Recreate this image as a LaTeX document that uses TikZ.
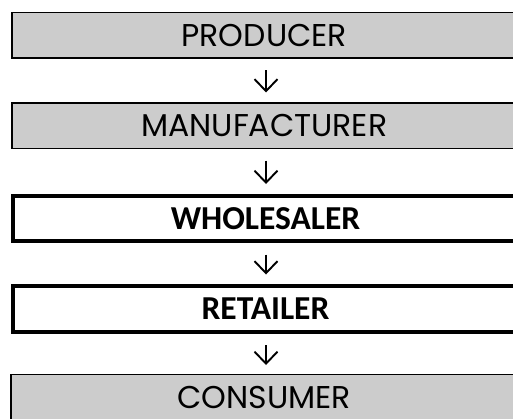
\documentclass[tikz,border=0pt]{standalone}
\usepackage{fontspec}
\usetikzlibrary{arrows.meta}
\newfontfamily\stagefont{Poppins}
\newfontfamily\tradefont{Carlito}
\definecolor{stagegrey}{HTML}{CCCCCC}
\begin{document}
\begin{tikzpicture}[x=1pt,y=-1pt,
  greybox/.style={draw=black, fill=stagegrey, line width=1.5pt,
    minimum width=505pt, minimum height=45.5pt, inner sep=0pt,
    anchor=north west, font=\stagefont\fontsize{31.5}{36}\selectfont},
  tradebox/.style={draw=black, fill=white, line width=4pt,
    minimum width=505pt, minimum height=45.5pt, inner sep=0pt,
    anchor=north west, font=\tradefont\bfseries\fontsize{33.5}{38}\selectfont},
  flow/.style={line width=1.9pt, -{Straight Barb[length=12pt,width=23pt]},
    shorten <=11.5pt, shorten >=9.5pt}]
  \useasboundingbox (0,0) rectangle (513,418);
  \clip (0,0) rectangle (513,418);
  % the five stages of the chain
  \node[greybox]  (prod) at (11,11.5)  {PRODUCER};
  \node[greybox]  (manu) at (11,102)   {MANUFACTURER};
  \node[tradebox] (whol) at (11,193.5) {WHOLESALER};
  \node[tradebox] (ret)  at (11,284)   {RETAILER};
  % the last stage runs off the lower edge: only its top and left sides show
  \node[greybox, draw=none, minimum height=43.5pt] (cons) at (11,374.5) {CONSUMER};
  \draw[line width=1.5pt] (cons.north east) -- (cons.north west) -- ([yshift=-2pt]cons.south west);
  % arrows between consecutive stages
  \coordinate (ax) at (266,0);
  \draw[flow] (prod.south -| ax) -- (manu.north -| ax);
  \draw[flow] (manu.south -| ax) -- (whol.north -| ax);
  \draw[flow] (whol.south -| ax) -- (ret.north -| ax);
  \draw[flow] (ret.south -| ax) -- (cons.north -| ax);
\end{tikzpicture}
\end{document}
